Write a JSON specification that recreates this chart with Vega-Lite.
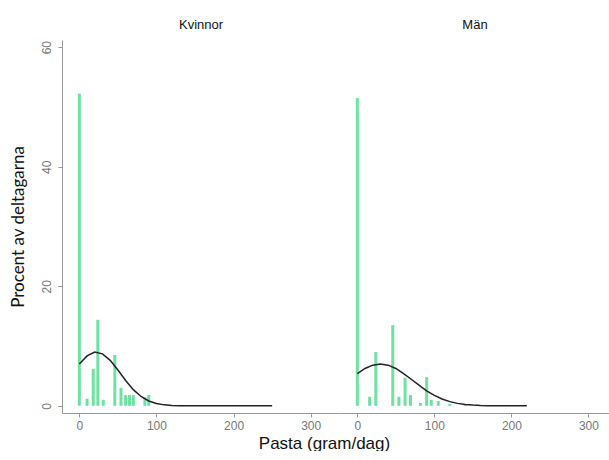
{
  "$schema": "https://vega.github.io/schema/vega-lite/v6.json",
  "padding": {"left": 9, "top": 19, "right": 0, "bottom": 0},
  "background": "white",
  "bounds": "flush",
  "config": {
    "view": {"stroke": null},
    "axis": {"grid": false, "domainColor": "#999", "tickColor": "#999", "labelColor": "#777", "labelFont": "Liberation Sans", "labelFontSize": 12, "tickSize": 4},
    "title": {"font": "Liberation Sans", "fontSize": 13, "fontWeight": "normal", "color": "#111", "anchor": "middle"}
  },
  "data": {"values": [
    {"sex": "Kvinnor", "type": "bar", "x": 0, "y": 52.2},
    {"sex": "Kvinnor", "type": "bar", "x": 10, "y": 1.2},
    {"sex": "Kvinnor", "type": "bar", "x": 18, "y": 6.2},
    {"sex": "Kvinnor", "type": "bar", "x": 24, "y": 14.4},
    {"sex": "Kvinnor", "type": "bar", "x": 31, "y": 1.0},
    {"sex": "Kvinnor", "type": "bar", "x": 46, "y": 8.5},
    {"sex": "Kvinnor", "type": "bar", "x": 54, "y": 3.0},
    {"sex": "Kvinnor", "type": "bar", "x": 60, "y": 1.8},
    {"sex": "Kvinnor", "type": "bar", "x": 65, "y": 1.8},
    {"sex": "Kvinnor", "type": "bar", "x": 70, "y": 1.8},
    {"sex": "Kvinnor", "type": "bar", "x": 85, "y": 1.4},
    {"sex": "Kvinnor", "type": "bar", "x": 90, "y": 1.8},
    {"sex": "Män", "type": "bar", "x": 0, "y": 51.5},
    {"sex": "Män", "type": "bar", "x": 16, "y": 1.5},
    {"sex": "Män", "type": "bar", "x": 24, "y": 9.0},
    {"sex": "Män", "type": "bar", "x": 46, "y": 13.5},
    {"sex": "Män", "type": "bar", "x": 54, "y": 1.5},
    {"sex": "Män", "type": "bar", "x": 62, "y": 4.7},
    {"sex": "Män", "type": "bar", "x": 69, "y": 1.8},
    {"sex": "Män", "type": "bar", "x": 82, "y": 0.5},
    {"sex": "Män", "type": "bar", "x": 90, "y": 4.8},
    {"sex": "Män", "type": "bar", "x": 96, "y": 1.0},
    {"sex": "Män", "type": "bar", "x": 105, "y": 0.8},
    {"sex": "Män", "type": "bar", "x": 120, "y": 0.3},
    {"sex": "Män", "type": "bar", "x": 140, "y": 0.3},
    {"sex": "Kvinnor", "type": "curve", "x": 0, "y": 7.0},
    {"sex": "Kvinnor", "type": "curve", "x": 10, "y": 8.35},
    {"sex": "Kvinnor", "type": "curve", "x": 20, "y": 9.0},
    {"sex": "Kvinnor", "type": "curve", "x": 30, "y": 8.7},
    {"sex": "Kvinnor", "type": "curve", "x": 40, "y": 7.6},
    {"sex": "Kvinnor", "type": "curve", "x": 50, "y": 6.0},
    {"sex": "Kvinnor", "type": "curve", "x": 60, "y": 4.25},
    {"sex": "Kvinnor", "type": "curve", "x": 70, "y": 2.7},
    {"sex": "Kvinnor", "type": "curve", "x": 80, "y": 1.57},
    {"sex": "Kvinnor", "type": "curve", "x": 90, "y": 0.81},
    {"sex": "Kvinnor", "type": "curve", "x": 100, "y": 0.38},
    {"sex": "Kvinnor", "type": "curve", "x": 110, "y": 0.16},
    {"sex": "Kvinnor", "type": "curve", "x": 120, "y": 0.06},
    {"sex": "Kvinnor", "type": "curve", "x": 130, "y": 0.02},
    {"sex": "Kvinnor", "type": "curve", "x": 140, "y": 0},
    {"sex": "Kvinnor", "type": "curve", "x": 250, "y": 0},
    {"sex": "Män", "type": "curve", "x": 0, "y": 5.4},
    {"sex": "Män", "type": "curve", "x": 10, "y": 6.25},
    {"sex": "Män", "type": "curve", "x": 20, "y": 6.8},
    {"sex": "Män", "type": "curve", "x": 30, "y": 7.0},
    {"sex": "Män", "type": "curve", "x": 40, "y": 6.8},
    {"sex": "Män", "type": "curve", "x": 50, "y": 6.25},
    {"sex": "Män", "type": "curve", "x": 60, "y": 5.4},
    {"sex": "Män", "type": "curve", "x": 70, "y": 4.45},
    {"sex": "Män", "type": "curve", "x": 80, "y": 3.45},
    {"sex": "Män", "type": "curve", "x": 90, "y": 2.5},
    {"sex": "Män", "type": "curve", "x": 100, "y": 1.75},
    {"sex": "Män", "type": "curve", "x": 110, "y": 1.14},
    {"sex": "Män", "type": "curve", "x": 120, "y": 0.7},
    {"sex": "Män", "type": "curve", "x": 130, "y": 0.41},
    {"sex": "Män", "type": "curve", "x": 140, "y": 0.23},
    {"sex": "Män", "type": "curve", "x": 150, "y": 0.12},
    {"sex": "Män", "type": "curve", "x": 160, "y": 0.06},
    {"sex": "Män", "type": "curve", "x": 170, "y": 0.03},
    {"sex": "Män", "type": "curve", "x": 180, "y": 0.01},
    {"sex": "Män", "type": "curve", "x": 200, "y": 0},
    {"sex": "Män", "type": "curve", "x": 220, "y": 0}
  ]},
  "spacing": 0,
  "hconcat": [
    {
      "title": {"text": "Kvinnor", "offset": 8},
      "width": 278,
      "height": 373,
      "transform": [{"filter": "datum.sex == 'Kvinnor'"}],
      "layer": [
        {
          "transform": [{"filter": "datum.type == 'bar'"}],
          "mark": {"type": "bar", "size": 3, "color": "#6ee2a0"},
          "encoding": {
            "x": {"field": "x", "type": "quantitative", "scale": {"domain": [-16, 331.5], "nice": false, "zero": false},
              "axis": {"values": [0, 100, 200, 300], "title": "Pasta (gram/dag)", "titleFont": "Liberation Sans", "titleFontSize": 17, "titleFontWeight": "normal", "titleColor": "#111", "titleX": 262, "titleAnchor": "middle", "titlePadding": 4, "labelPadding": 3}},
            "y": {"field": "y", "type": "quantitative", "scale": {"domain": [-1.2, 61.2], "nice": false, "zero": false},
              "axis": {"values": [0, 20, 40, 60], "labelAngle": 270, "labelAlign": "center", "labelBaseline": "bottom", "labelPadding": 5, "title": "Procent av deltagarna", "titleFont": "Lato", "titleFontSize": 17, "titleFontWeight": "normal", "titleColor": "#111", "titlePadding": 13}}
          }
        },
        {
          "transform": [{"filter": "datum.type == 'curve'"}],
          "mark": {"type": "line", "color": "#222", "strokeWidth": 1.5},
          "encoding": {
            "x": {"field": "x", "type": "quantitative"},
            "y": {"field": "y", "type": "quantitative"}
          }
        }
      ]
    },
    {
      "title": {"text": "Män", "offset": 8},
      "width": 270,
      "height": 373,
      "transform": [{"filter": "datum.sex == 'Män'"}],
      "layer": [
        {
          "transform": [{"filter": "datum.type == 'bar'"}],
          "mark": {"type": "bar", "size": 3, "color": "#6ee2a0"},
          "encoding": {
            "x": {"field": "x", "type": "quantitative", "scale": {"domain": [-16, 321.5], "nice": false, "zero": false},
              "axis": {"values": [0, 100, 200, 300], "title": null, "labelPadding": 3}},
            "y": {"field": "y", "type": "quantitative", "scale": {"domain": [-1.2, 61.2], "nice": false, "zero": false}, "axis": null}
          }
        },
        {
          "transform": [{"filter": "datum.type == 'curve'"}],
          "mark": {"type": "line", "color": "#222", "strokeWidth": 1.5},
          "encoding": {
            "x": {"field": "x", "type": "quantitative"},
            "y": {"field": "y", "type": "quantitative"}
          }
        }
      ]
    }
  ]
}
